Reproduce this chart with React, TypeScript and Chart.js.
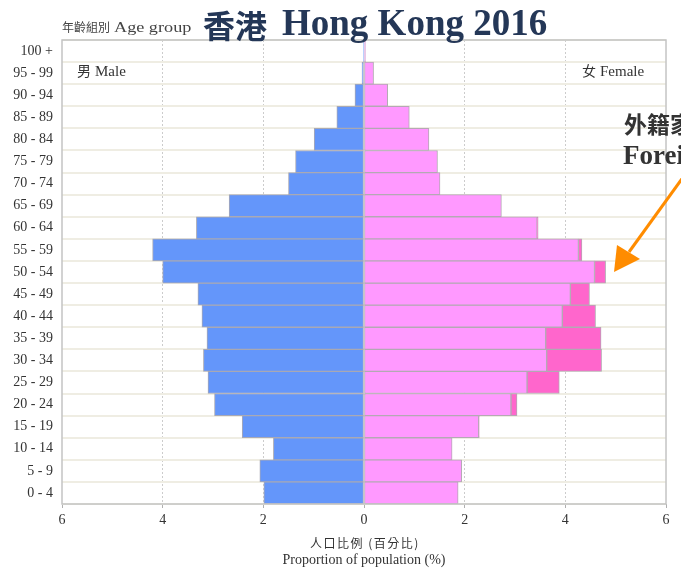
import React, { useEffect, useRef } from "react";
import { Chart, registerables } from "chart.js";

Chart.register(...registerables);

const ageGroups = [
  "0 - 4", "5 - 9", "10 - 14", "15 - 19", "20 - 24", "25 - 29", "30 - 34",
  "35 - 39", "40 - 44", "45 - 49", "50 - 54", "55 - 59", "60 - 64", "65 - 69",
  "70 - 74", "75 - 79", "80 - 84", "85 - 89", "90 - 94", "95 - 99", "100 +",
];
const maleValues = [
  1.99, 2.07, 1.8, 2.42, 2.97, 3.1, 3.19, 3.12, 3.22, 3.3, 4.0, 4.2, 3.33, 2.68,
  1.5, 1.36, 0.99, 0.54, 0.18, 0.04, 0.01,
];
const femaleLocalValues = [
  1.87, 1.94, 1.75, 2.28, 2.92, 3.24, 3.63, 3.61, 3.94, 4.1, 4.58, 4.26, 3.44,
  2.73, 1.51, 1.46, 1.29, 0.9, 0.47, 0.19, 0.03,
];
const femaleForeignValues = [
  0, 0, 0, 0.01, 0.12, 0.64, 1.09, 1.1, 0.66, 0.38, 0.22, 0.07, 0.02, 0, 0, 0, 0,
  0, 0, 0, 0,
];
const xTicks = [-6, -4, -2, 0, 2, 4, 6];

const SERIF = '"Liberation Serif", "Noto Sans CJK TC", serif';
const CJK = '"Noto Sans CJK TC", "Liberation Serif", serif';

const overlayPlugin = {
  id: "overlay",
  afterDatasetsDraw(chart: any) {
    const { ctx, chartArea } = chart;
    ctx.save();
    ctx.strokeStyle = "#c4c4c4";
    ctx.lineWidth = 1.5;
    ctx.strokeRect(
      chartArea.left,
      chartArea.top,
      chartArea.right - chartArea.left,
      chartArea.bottom - chartArea.top
    );
    ctx.restore();
  },
  afterDraw(chart: any) {
    const { ctx, chartArea } = chart;
    const cx = (chartArea.left + chartArea.right) / 2;
    ctx.save();
    // Title
    ctx.fillStyle = "#243757";
    ctx.textBaseline = "alphabetic";
    ctx.textAlign = "left";
    ctx.font = "bold 32px " + CJK;
    ctx.fillText("香港", 203, 38);
    ctx.font = "bold 37px " + SERIF;
    ctx.fillText("Hong Kong 2016", 282, 35);

    // Age group label
    ctx.fillStyle = "#444";
    ctx.font = "12px " + CJK;
    ctx.fillText("年齡組別", 62, 32);
    ctx.save();
    ctx.translate(114, 32);
    ctx.scale(1.3, 1);
    ctx.font = "14px " + SERIF;
    ctx.fillText("Age group", 0, 0);
    ctx.restore();

    // Male / Female labels
    ctx.fillStyle = "#333";
    ctx.font = "14px " + CJK;
    ctx.fillText("男", 77, 76);
    ctx.font = "15px " + SERIF;
    ctx.fillText("Male", 95, 76);
    ctx.font = "14px " + CJK;
    ctx.fillText("女", 582, 76);
    ctx.font = "15px " + SERIF;
    ctx.fillText("Female", 600, 76);

    // Axis title
    ctx.fillStyle = "#333";
    ctx.textAlign = "center";
    ctx.font = "12px " + CJK;
    (ctx as any).letterSpacing = "1.5px";
    ctx.fillText("人口比例 (百分比)", cx + 1, 548);
    (ctx as any).letterSpacing = "0px";
    ctx.font = "14px " + SERIF;
    ctx.fillText("Proportion of population (%)", cx, 564);

    // Annotation
    ctx.textAlign = "left";
    ctx.fillStyle = "#333";
    ctx.font = "bold 23px " + CJK;
    ctx.fillText("外籍家庭傭工", 624, 133);
    ctx.font = "bold 27px " + SERIF;
    ctx.fillText("Foreign domestic helpers", 623, 164);

    // Arrow
    ctx.strokeStyle = "#ff8c00";
    ctx.fillStyle = "#ff8c00";
    ctx.lineWidth = 3;
    ctx.beginPath();
    ctx.moveTo(684, 176);
    ctx.lineTo(629, 252);
    ctx.stroke();
    ctx.beginPath();
    ctx.moveTo(614, 272);
    ctx.lineTo(617, 245);
    ctx.lineTo(640, 259);
    ctx.closePath();
    ctx.fill();
    ctx.restore();
  },
};

export default function App() {
  const canvasRef = useRef<HTMLCanvasElement | null>(null);

  useEffect(() => {
    if (!canvasRef.current) return;
    const toNull = (v: number) => (v === 0 ? null : v);
    const chart = new Chart(canvasRef.current, {
      type: "bar",
      data: {
        labels: ageGroups,
        datasets: [
          {
            label: "Male",
            data: maleValues.map((v) => -v),
            backgroundColor: "#6496fa",
            borderColor: "#a9a9b4",
            borderWidth: 1,
            borderSkipped: false,
          },
          {
            label: "Female",
            data: femaleLocalValues,
            backgroundColor: "#ff99ff",
            borderColor: "#b4a9b4",
            borderWidth: 1,
            borderSkipped: false,
          },
          {
            label: "Foreign domestic helpers",
            data: femaleForeignValues.map(toNull),
            backgroundColor: "#ff66cc",
            borderColor: "#b4a9b4",
            borderWidth: 1,
            borderSkipped: false,
          },
        ],
      },
      options: {
        indexAxis: "y",
        responsive: false,
        animation: false,
        layout: { padding: { top: 40, right: 15, left: 0, bottom: 0 } },
        datasets: {
          bar: { barPercentage: 1, categoryPercentage: 1 },
        },
        plugins: {
          legend: { display: false },
          tooltip: { enabled: false },
          title: { display: false },
        },
        scales: {
          x: {
            type: "linear",
            stacked: true,
            min: -6,
            max: 6,
            afterBuildTicks: (scale: any) => {
              scale.ticks = xTicks.map((v) => ({ value: v }));
            },
            afterFit: (scale: any) => {
              scale.height = 64;
            },
            ticks: {
              callback: (v: any) => String(Math.abs(Number(v))),
              font: { family: SERIF, size: 14 },
              color: "#333",
              padding: 4,
              maxRotation: 0,
            },
            grid: {
              color: (ctx: any) => {
                const v = ctx.tick ? ctx.tick.value : 0;
                return v === 0 || Math.abs(v) === 6 ? "rgba(0,0,0,0)" : "#cccccc";
              },
              lineWidth: 1,
              tickLength: 4,
              tickColor: "#b0b0b0",
              tickWidth: 1,
              tickBorderDash: [],
            },
            border: { display: false, dash: [2, 2] },
          },
          y: {
            type: "category",
            stacked: true,
            reverse: true,
            afterFit: (scale: any) => {
              scale.width = 62;
            },
            ticks: {
              font: { family: SERIF, size: 14 },
              color: "#333",
              padding: 9,
            },
            grid: {
              color: "#efede3",
              lineWidth: 2,
              drawTicks: false,
              offset: true,
            },
            border: { display: false },
          },
        },
      },
      plugins: [overlayPlugin],
    } as any);
    return () => chart.destroy();
  }, []);

  return (
    <div
      style={{
        position: "fixed",
        left: 0,
        top: 0,
        width: 681,
        height: 568,
        background: "#ffffff",
        overflow: "hidden",
      }}
    >
      <canvas
        ref={canvasRef}
        width={681}
        height={568}
        style={{ width: 681, height: 568, display: "block" }}
      />
    </div>
  );
}
